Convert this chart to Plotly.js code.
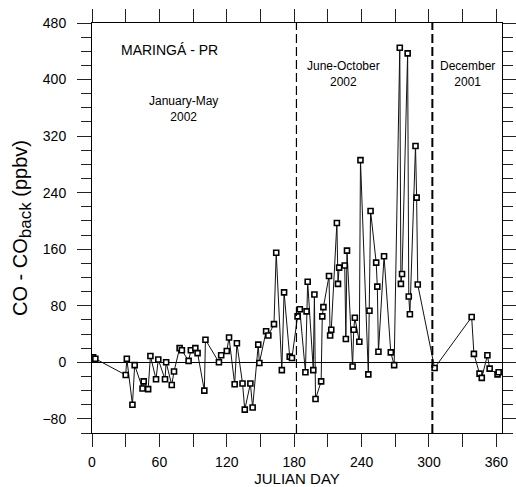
<!DOCTYPE html>
<html>
<head>
<meta charset="utf-8">
<script src="https://cdn.plot.ly/plotly-3.0.1.min.js"></script>
<style>html,body{margin:0;padding:0;background:#fff;}#chart{width:516px;height:487px;}</style>
</head>
<body>
<div id="chart"></div>
<script>
const julianDay = [1,3,30,31,36,38,45,46,50,52,57,59,65,66,71,73,78,80,86,88,92,94,100,101,113,115,120,122,127,129,134,136,141,143,148,149,155,157,162,164,169,171,176,178,183,185,190,191,192,197,198,199,204,205,206,211,212,213,218,219,220,225,226,227,232,233,234,238,239,246,247,248,253,254,255,260,266,269,274,275,276,281,282,283,288,289,290,305,338,340,345,347,352,354,361,362];
const coExcess = [7,5,-18,5,-60,-4,-37,-27,-38,9,-24,4,-24,0,-32,-13,20,17,2,17,20,13,-40,32,0,10,16,35,-31,27,-30,-67,-30,-64,25,-1,44,38,54,155,-11,99,8,6,65,75,-14,72,114,-11,96,-52,-27,65,78,122,38,46,197,111,134,137,33,158,-6,46,63,29,286,-17,73,214,141,107,15,150,14,-4,445,111,125,437,93,68,306,233,110,-8,64,12,-16,-22,10,-9,-17,-14];
const periodBounds = [182, 303];
const periodLabels = ["January-May<br>2002", "June-October<br>2002", "December<br>2001"];
const stationName = "MARINGÁ - PR";
const xTickVals = [0,60,120,180,240,300,360];
const yTickVals = [-80,0,80,160,240,320,400,480];
const xRange = [0, 365];
const yRange = [-100, 480];

const font = "Liberation Sans, Arial, Helvetica, sans-serif";

const trace = {
  x: julianDay, y: coExcess, type: 'scatter', mode: 'lines+markers',
  line: {color: '#111', width: 1},
  marker: {symbol: 'square', size: 5, color: '#fff', line: {color: '#000', width: 1.6}},
  hoverinfo: 'x+y', showlegend: false
};

const shapes = periodBounds.map((b, i) => ({
  type: 'line', xref: 'x', yref: 'paper', x0: b, x1: b, y0: 0, y1: 1,
  line: {color: '#000', width: i === 0 ? 1.2 : 2, dash: '9px,4px'}
}));

const annoPos = [[81.5, 358], [224, 408], [334.5, 408]];
const annotations = periodLabels.map((t, i) => ({
  text: t, x: annoPos[i][0], y: annoPos[i][1], xref: 'x', yref: 'y',
  showarrow: false, align: 'center', font: {family: font, size: 12, color: '#000'}
}));
annotations.push({
  text: stationName, x: 24, y: 442, xref: 'x', yref: 'y', xanchor: 'left',
  showarrow: false, font: {family: font, size: 14, color: '#000'}
});

const xMinor = {dtick: 30, tick0: 0, ticks: 'outside', ticklen: 13, tickwidth: 1, tickcolor: '#222', showgrid: false};
const yMinor = {dtick: 20, tick0: 0, ticks: 'outside', ticklen: 10, tickwidth: 1, tickcolor: '#222', showgrid: false};

const layout = {
  width: 516, height: 487,
  margin: {l: 92, r: 14, t: 23, b: 54},
  paper_bgcolor: '#fff', plot_bgcolor: '#fff',
  font: {family: font, color: '#000'},
  xaxis: {
    range: xRange, tickvals: xTickVals, ticks: 'outside', ticklen: 13, tickwidth: 1, tickcolor: '#222',
    minor: xMinor, mirror: 'allticks',
    showline: true, linecolor: '#000', linewidth: 1,
    showgrid: false, zeroline: false, ticklabelstandoff: 3,
    tickfont: {family: font, size: 14, color: '#000'},
    title: {text: 'JULIAN DAY', font: {family: font, size: 15, color: '#000'}, standoff: 8}
  },
  yaxis: {
    range: yRange, tickvals: yTickVals, ticks: 'outside', ticklen: 14, tickwidth: 1, tickcolor: '#222',
    minor: yMinor, mirror: 'allticks',
    showline: true, linecolor: '#000', linewidth: 1,
    showgrid: false, zeroline: true, zerolinecolor: '#000', zerolinewidth: 1.2, ticklabelstandoff: 8,
    tickfont: {family: font, size: 14, color: '#000'},
    title: {text: 'CO - CO<sub><span style="font-size:17px">back</span></sub> (ppbv)', font: {family: font, size: 20, color: '#000'}, standoff: 9}
  },
  shapes: shapes,
  annotations: annotations
};

Plotly.newPlot('chart', [trace], layout, {displayModeBar: false, staticPlot: true});
</script>
</body>
</html>
